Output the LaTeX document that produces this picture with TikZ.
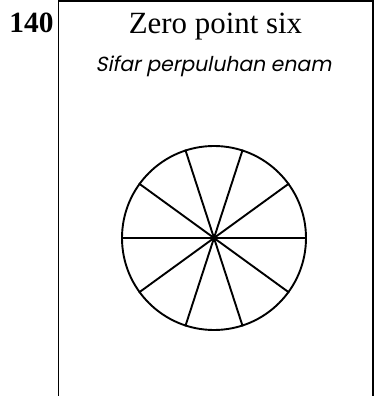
\documentclass[tikz,border=0pt]{standalone}
\usepackage{fontspec}
\setmainfont{Liberation Serif}
\newfontfamily\gothicfont[FakeSlant=0.2]{Poppins}
\usetikzlibrary{positioning}

\tikzset{
    card/.style={line width=1.8bp},
    spoke/.style={line width=1.9bp},
}

\begin{document}
\begin{tikzpicture}[x=1bp, y=1bp]
        \useasboundingbox (0,0) rectangle (374,396);

        % --- card frame ---
        \draw[card] (58.5,-5) |- (373,395.3) -- (373,-5);

        % --- labels ---
        \node[anchor=base, font=\bfseries\fontsize{29.5}{30}\selectfont, inner sep=0] (num) at (31.5,364) {140};
        \node[anchor=base, font=\fontsize{31}{32}\selectfont, inner sep=0] (title) at (215.5,363) {Zero point six};
        \node[anchor=base, font=\gothicfont\fontsize{20.5}{22}\selectfont, inner sep=0] (subtitle) at (213.5,325) {Sifar perpuluhan enam};

        % --- circle cut into tenths ---
        \node[draw, circle, spoke, minimum size=184bp, inner sep=0] (pie) at (214,158) {};
        \foreach \a in {0,36,...,144}
            \draw[spoke] (pie.\a) -- (pie.\a+180);

    \end{tikzpicture}
\end{document}
